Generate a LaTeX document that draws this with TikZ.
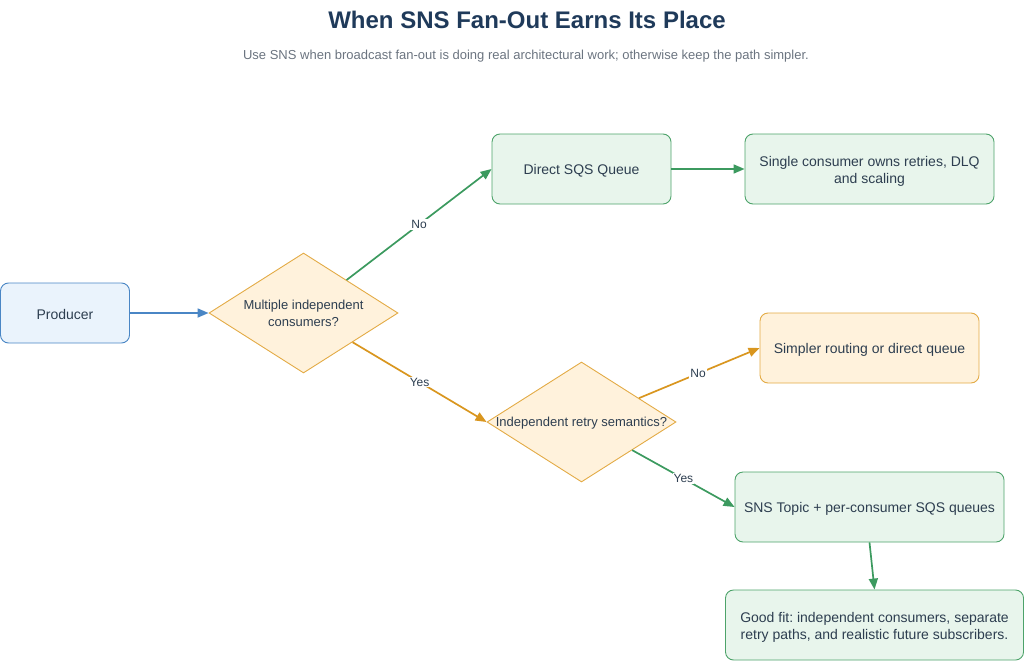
\documentclass[tikz,border=0pt]{standalone}
\usepackage{fontspec}
\setmainfont{Liberation Sans}
\frenchspacing
\usetikzlibrary{shapes.geometric,arrows.meta}
\definecolor{txt}{HTML}{2D3E50}
\definecolor{ttl}{HTML}{1F3A5A}
\definecolor{sub}{HTML}{6B7480}
\definecolor{bluefill}{HTML}{EAF3FC}
\definecolor{blueline}{HTML}{4A86C5}
\definecolor{greenfill}{HTML}{E8F5EC}
\definecolor{greenline}{HTML}{4DA36A}
\definecolor{greenarrow}{HTML}{3C9A5F}
\definecolor{orangefill}{HTML}{FFF2DC}
\definecolor{orangeline}{HTML}{E3AB45}
\definecolor{orangearrow}{HTML}{D9961F}
\newcommand{\tallstrut}{\rule{0pt}{14pt}}
\tikzset{
  box/.style={draw, rounded corners=8pt, line width=0.9pt, text=txt, align=center,
    font=\fontsize{14}{17}\selectfont, inner sep=0pt,
    execute at begin node={\rule{0pt}{14pt}}},
  bluebox/.style={box, fill=bluefill, draw=blueline},
  greenbox/.style={box, fill=greenfill, draw=greenline},
  orangebox/.style={box, fill=orangefill, draw=orangeline},
  decision/.style={diamond, draw=orangeline, fill=orangefill, line width=0.9pt,
    minimum width=189pt, minimum height=120pt, inner sep=0pt, aspect=1.575},
  dtext/.style={text=txt, align=center, font=\fontsize{13}{17}\selectfont,
    execute at begin node={\rule{0pt}{12pt}}},
  conn/.style={line width=1.7pt, -{Triangle[length=11pt,width=9pt]}},
  gconn/.style={conn, draw=greenarrow, color=greenarrow},
  oconn/.style={conn, draw=orangearrow, color=orangearrow},
  bconn/.style={conn, draw=blueline, color=blueline},
  elabel/.style={fill=white, text=txt, inner sep=1pt, font=\fontsize{12}{14}\selectfont},
}
\begin{document}
\begin{tikzpicture}[x=1pt,y=-1pt]
\useasboundingbox (0,0) rectangle (1024,661);
\node[text=ttl, font=\fontsize{24}{28}\selectfont\bfseries] (title) at (527,20) {When SNS Fan-Out Earns Its Place};
\node[text=sub, font=\fontsize{13}{16}\selectfont] (subtitle) at (526,56) {Use SNS when broadcast fan-out is doing real architectural work; otherwise keep the path simpler.};

\node[bluebox, minimum width=129pt, minimum height=60pt] (prod) at (65,313) {Producer};
\node[decision] (d1) at (303.5,313) {};
\node[dtext] (d1t) at (d1.center) {Multiple independent\\consumers?};
\node[greenbox, minimum width=179pt, minimum height=70pt] (sqs) at (581.5,169) {Direct SQS Queue};
\node[greenbox, minimum width=249pt, minimum height=70pt] (single) at (869.5,169) {\tallstrut Single consumer owns retries, DLQ\\and scaling};
\node[orangebox, minimum width=219pt, minimum height=70pt] (simpler) at (869.5,348) {Simpler routing or direct queue};
\node[decision] (d2) at (581.5,422) {};
\node[dtext] (d2t) at (d2.center) {Independent retry semantics?};
\node[greenbox, minimum width=269pt, minimum height=70pt] (sns) at (869.5,507) {SNS Topic + per-consumer SQS queues};
\node[greenbox, minimum width=298pt, minimum height=70pt] (good) at (874.5,625) {\tallstrut Good fit: independent consumers, separate\\retry paths, and realistic future subscribers.};

\draw[bconn] (prod) -- (d1);
\draw[gconn] (d1) -- (sqs.west) node[elabel, pos=0.5] (l1) {No};
\draw[oconn] (d1) -- (d2.west) node[elabel, pos=0.5] (l2) {Yes};
\draw[gconn] (sqs) -- (single);
\draw[oconn] (d2) -- (simpler.west) node[elabel, pos=0.49] (l3) {No};
\draw[gconn] (d2) -- (sns.west) node[elabel, pos=0.5] (l4) {Yes};
\draw[gconn] (sns.south) -- (good.north);
\end{tikzpicture}
\end{document}
